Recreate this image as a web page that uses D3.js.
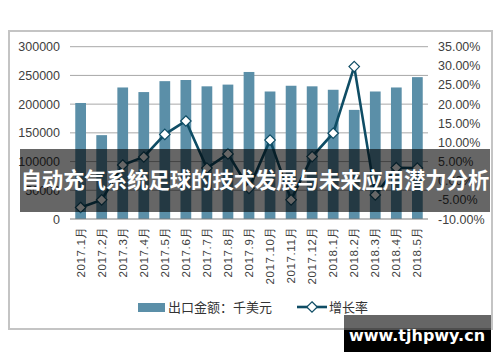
<!DOCTYPE html>
<html>
<head>
<meta charset="utf-8">
<script src="https://cdn.jsdelivr.net/npm/d3@7"></script>
<style>
  body { margin: 0; background: #fff; }
  svg { display: block; font-family: "Liberation Sans", Arial, sans-serif; }
</style>
</head>
<body>
<div id="chart"></div>
<script>
// data
const months = ["2017.1月","2017.2月","2017.3月","2017.4月","2017.5月","2017.6月","2017.7月","2017.8月","2017.9月",
  "2017.10月","2017.11月","2017.12月","2018.1月","2018.2月","2018.3月","2018.4月","2018.5月"];
const exportValue = [202000,146000,229000,221000,240000,242000,231000,234000,256000,
  222000,232000,231000,225000,190000,222000,229000,247000];
const growthRate = [-7.0,-5.0,4.1,6.2,12.1,15.6,3.3,7.0,-2.0,10.6,-5.0,6.3,12.4,29.8,-3.7,3.4,3.3];
const leftTicks = [0,50000,100000,150000,200000,250000,300000];
const rightTicks = [-10,-5,0,5,10,15,20,25,30,35];

const W = 500, H = 362;
const plot = {left: 70, right: 428, top: 46.7, bottom: 219};

const svg = d3.select("#chart").append("svg")
  .attr("width", W).attr("height", H);

// chart frame
svg.append("rect")
  .attr("x", 9).attr("y", 31).attr("width", 483).attr("height", 298)
  .attr("fill", "#fff").attr("stroke", "#c4c4c4").attr("stroke-width", 2);

const x = d3.scaleBand().domain(months).range([plot.left, plot.right]).paddingInner(0.49).paddingOuter(0.25);
const y = d3.scaleLinear().domain([0, 300000]).range([plot.bottom, plot.top]);
const y2 = d3.scaleLinear().domain([-10, 35]).range([plot.bottom, plot.top]);

// gridlines
svg.append("g").selectAll("line")
  .data(leftTicks.slice(1))
  .join("line")
    .attr("x1", plot.left).attr("x2", plot.right)
    .attr("y1", d => y(d)).attr("y2", d => y(d))
    .attr("stroke", "#a8a8a8").attr("stroke-width", 1);

// left axis
svg.append("g")
  .attr("transform", `translate(${plot.left - 2},0)`)
  .call(d3.axisLeft(y).tickValues(leftTicks).tickSize(0).tickPadding(8).tickFormat(d3.format("d")))
  .call(g => g.select(".domain").remove())
  .selectAll("text")
    .style("font-size", "12.5px").attr("fill", "#404040");

// right axis
svg.append("g")
  .attr("transform", `translate(${plot.right + 2},0)`)
  .call(d3.axisRight(y2).tickValues(rightTicks).tickSize(0).tickPadding(8).tickFormat(d => d.toFixed(2) + "%"))
  .call(g => g.select(".domain").remove())
  .selectAll("text")
    .style("font-size", "12.5px").attr("fill", "#404040");

// bars
svg.append("g").selectAll("rect")
  .data(exportValue)
  .join("rect")
    .attr("x", (d, i) => x(months[i]))
    .attr("y", d => y(d))
    .attr("width", x.bandwidth())
    .attr("height", d => y(0) - y(d))
    .attr("fill", "#5b8fa8");

// base axis line
svg.append("line")
  .attr("x1", plot.left).attr("x2", plot.right)
  .attr("y1", y(0)).attr("y2", y(0))
  .attr("stroke", "#7f7f7f").attr("stroke-width", 1.2);

// x labels (rotated)
svg.append("g")
  .attr("transform", `translate(0,${y(0)})`)
  .call(d3.axisBottom(x).tickSize(0).tickPadding(0))
  .call(g => g.select(".domain").remove())
  .selectAll("text")
    .attr("transform", "rotate(-90)")
    .attr("text-anchor", "end")
    .attr("x", -7).attr("y", 0).attr("dy", "0.35em")
    .style("font-size", "11.5px").style("letter-spacing", "0.6px").attr("fill", "#404040");

// growth line
const cx = (d, i) => x(months[i]) + x.bandwidth() / 2;
svg.append("path")
  .datum(growthRate)
  .attr("d", d3.line().x(cx).y(d => y2(d)))
  .attr("fill", "none").attr("stroke", "#0f4d65").attr("stroke-width", 2.6);

const diamond = d3.symbol().type(d3.symbolDiamond2).size(70);
svg.append("g").selectAll("path")
  .data(growthRate)
  .join("path")
    .attr("transform", (d, i) => `translate(${cx(d, i)},${y2(d)})`)
    .attr("d", diamond)
    .attr("fill", "#fff").attr("stroke", "#0f4d65").attr("stroke-width", 1.2);

// legend
const lg = svg.append("g").style("font-family", "'Noto Sans CJK SC', sans-serif").style("font-size", "13px");
lg.append("rect").attr("x", 138).attr("y", 303).attr("width", 27).attr("height", 9).attr("fill", "#5b8fa8");
lg.append("text").attr("x", 168).attr("y", 312).attr("fill", "#333").text("出口金额：千美元");
lg.append("line").attr("x1", 297).attr("x2", 327).attr("y1", 307).attr("y2", 307)
  .attr("stroke", "#0f4d65").attr("stroke-width", 2.6);
lg.append("path").attr("transform", "translate(312,307)").attr("d", diamond)
  .attr("fill", "#fff").attr("stroke", "#0f4d65").attr("stroke-width", 1.2);
lg.append("text").attr("x", 329).attr("y", 312).attr("fill", "#333").text("增长率");

// title banner over the chart
svg.append("rect").attr("x", 20).attr("y", 149).attr("width", 470).attr("height", 63)
  .attr("fill", "rgba(0,0,0,0.6)");
svg.append("text")
  .attr("x", 255).attr("y", 188)
  .attr("text-anchor", "middle")
  .style("font-family", "'Noto Sans CJK SC', sans-serif")
  .style("font-size", "21.3px").style("font-weight", "bold")
  .attr("fill", "#fff")
  .text("自动充气系统足球的技术发展与未来应用潜力分析");

// watermark
svg.append("rect").attr("x", 344).attr("y", 315).attr("width", 147).attr("height", 15)
  .attr("fill", "rgba(0,0,0,0.6)");
svg.append("rect").attr("x", 344).attr("y", 330).attr("width", 147).attr("height", 22)
  .attr("fill", "#000");
svg.append("text")
  .attr("x", 417).attr("y", 341)
  .attr("text-anchor", "middle")
  .style("font-family", "'DejaVu Sans', sans-serif")
  .style("font-size", "16px").style("font-weight", "bold")
  .attr("fill", "#fff")
  .text("www.tjhpwy.cn");
</script>
</body>
</html>
